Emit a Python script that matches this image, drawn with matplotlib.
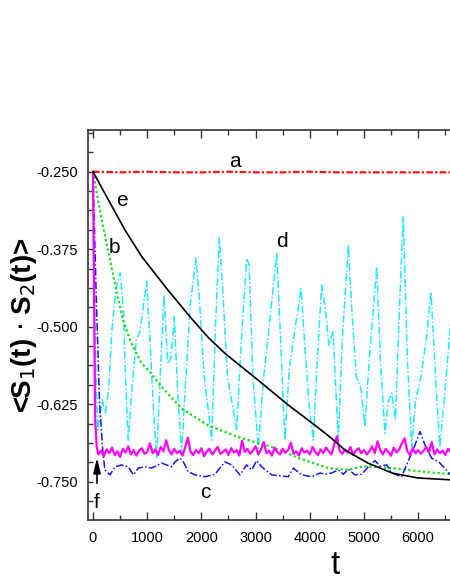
import numpy as np
import matplotlib
matplotlib.use('Agg')
import matplotlib.pyplot as plt
from matplotlib.ticker import MultipleLocator, FormatStrFormatter

plt.rcParams['font.family'] = ['Liberation Sans', 'DejaVu Sans']
plt.rcParams['axes.unicode_minus'] = False

# curve a : red, flat
t_a = [0, 500, 1000, 1500, 2000, 2500, 3000, 3500, 4000, 4500, 5000, 5500, 6000, 6600]
v_a = [-0.250, -0.251, -0.250, -0.251, -0.251, -0.250, -0.251, -0.251, -0.250, -0.251,
       -0.251, -0.251, -0.251, -0.251]

# curve b : green, slow decay
t_b = [0, 100, 200, 314, 443, 553, 700, 898, 1050, 1267, 1636, 2122, 2675, 3300,
       3800, 4340, 4700, 5000, 5500, 6000, 6600]
v_b = [-0.250, -0.300, -0.345, -0.392, -0.446, -0.489, -0.525, -0.559, -0.573, -0.597,
       -0.632, -0.659, -0.678, -0.694, -0.712, -0.728, -0.731, -0.725, -0.728, -0.733, -0.738]

# curve c : blue
t_c = [0, 60, 120, 180, 220, 314, 406, 529, 652, 745, 837, 960, 1082, 1267, 1452, 1513,
       1605, 1667, 1759, 1882, 2066, 2251, 2435, 2558, 2712, 2835, 2927, 3020, 3112, 3297,
       3603, 3696, 3850, 4035, 4188, 4280, 4404, 4526, 4619, 4711, 4834, 4957, 5080, 5203,
       5295, 5419, 5511, 5695, 5849, 5941, 6033, 6125, 6249, 6402, 6600]
v_c = [-0.250, -0.450, -0.620, -0.700, -0.731, -0.739, -0.726, -0.723, -0.726, -0.739,
       -0.728, -0.726, -0.728, -0.720, -0.726, -0.718, -0.712, -0.718, -0.734, -0.739,
       -0.742, -0.738, -0.718, -0.723, -0.739, -0.723, -0.731, -0.716, -0.726, -0.739,
       -0.742, -0.728, -0.739, -0.742, -0.736, -0.738, -0.736, -0.731, -0.738, -0.730,
       -0.739, -0.738, -0.726, -0.716, -0.725, -0.723, -0.736, -0.742, -0.710, -0.691,
       -0.669, -0.691, -0.712, -0.720, -0.739]

# curve d : cyan, oscillating
t_d = [0, 30, 60, 90, 130, 170, 230, 290, 350, 420, 500, 560, 600, 650, 720, 800, 860,
       940, 990, 1050, 1120, 1175, 1240, 1310, 1380, 1440, 1500, 1560, 1636, 1700, 1800,
       1900, 1960, 2050, 2120, 2190, 2260, 2330, 2400, 2480, 2560, 2650, 2740, 2835, 2880,
       2950, 3050, 3150, 3250, 3390, 3450, 3540, 3620, 3700, 3840, 3900, 3980, 4065, 4140,
       4220, 4300, 4350, 4430, 4480, 4526, 4600, 4711, 4780, 4860, 4950, 5018, 5100, 5234,
       5300, 5387, 5450, 5510, 5580, 5650, 5725, 5800, 5880, 5950, 6050, 6150, 6236, 6320,
       6400, 6500, 6600]
v_d = [-0.250, -0.450, -0.600, -0.667, -0.640, -0.618, -0.639, -0.600, -0.505, -0.440,
       -0.413, -0.470, -0.580, -0.683, -0.600, -0.520, -0.510, -0.460, -0.427, -0.520,
       -0.640, -0.712, -0.580, -0.449, -0.560, -0.550, -0.484, -0.600, -0.704, -0.600,
       -0.460, -0.390, -0.450, -0.580, -0.630, -0.683, -0.500, -0.357, -0.450, -0.580,
       -0.620, -0.666, -0.520, -0.390, -0.400, -0.580, -0.696, -0.580, -0.500, -0.382,
       -0.500, -0.683, -0.570, -0.520, -0.438, -0.520, -0.620, -0.683, -0.550, -0.433,
       -0.480, -0.530, -0.508, -0.600, -0.683, -0.520, -0.368, -0.480, -0.580, -0.602,
       -0.661, -0.550, -0.403, -0.550, -0.672, -0.620, -0.607, -0.650, -0.480, -0.323,
       -0.550, -0.694, -0.620, -0.580, -0.520, -0.444, -0.580, -0.694, -0.600, -0.490]

# curve e : black, smooth
t_e = [0, 250, 590, 900, 1384, 1800, 2122, 2435, 3044, 3598, 4096, 4373, 4649, 5074,
       5517, 5996, 6600]
v_e = [-0.250, -0.290, -0.344, -0.387, -0.441, -0.485, -0.517, -0.543, -0.586, -0.626,
       -0.659, -0.678, -0.699, -0.720, -0.736, -0.744, -0.747]

# curve f : magenta, fast drop then noisy plateau
t_f0 = [0, 20, 40, 70]
v_f0 = [-0.250, -0.450, -0.650, -0.695]
t_f1 = np.arange(100, 6601, 50)
v_f1 = [-0.706, -0.700, -0.709, -0.698, -0.704, -0.695, -0.707, -0.701, -0.710, -0.697,
        -0.703, -0.693, -0.706, -0.699, -0.708, -0.700, -0.696, -0.705, -0.702, -0.688,
        -0.704, -0.698, -0.707, -0.694, -0.701, -0.683, -0.699, -0.706, -0.697, -0.704,
        -0.700, -0.708, -0.695, -0.679, -0.702, -0.707, -0.699, -0.704, -0.696, -0.709,
        -0.701, -0.697, -0.706, -0.700, -0.694, -0.705, -0.702, -0.698, -0.707, -0.696,
        -0.703, -0.699, -0.708, -0.684, -0.702, -0.697, -0.705, -0.700, -0.693, -0.706,
        -0.698, -0.686, -0.704, -0.700, -0.708, -0.695, -0.702, -0.706, -0.697, -0.703,
        -0.699, -0.687, -0.705, -0.701, -0.708, -0.696, -0.703, -0.700, -0.706, -0.694,
        -0.702, -0.707, -0.698, -0.704, -0.695, -0.701, -0.706, -0.690, -0.677, -0.700,
        -0.705, -0.698, -0.703, -0.694, -0.707, -0.700, -0.696, -0.704, -0.699, -0.706,
        -0.701, -0.693, -0.704, -0.685, -0.699, -0.706, -0.697, -0.702, -0.708, -0.695,
        -0.703, -0.698, -0.688, -0.680, -0.701, -0.707, -0.696, -0.704, -0.699, -0.705,
        -0.700, -0.694, -0.703, -0.686, -0.706, -0.698, -0.704, -0.700, -0.707, -0.697,
        -0.702]
t_f = list(t_f0) + list(t_f1)
v_f = v_f0 + v_f1

curve_names = ['a', 'b', 'c', 'd', 'e', 'f']
name_pos = [(2620, -0.234), (387, -0.373), (2066, -0.767), (3487, -0.363),
            (535, -0.296), (74, -0.783)]

fig = plt.figure(figsize=(4.5, 5.82), dpi=100)
ax = fig.add_axes([88/450, 62/582, 364/450, 390/582])

ax.plot(t_d, v_d, color='#22e8ff', lw=1.1, ls=(0, (5, 1.5, 1, 1.5)))
ax.plot(t_b, v_b, color='#11dd11', lw=1.6, ls=(0, (1, 1.2)))
ax.plot(t_c, v_c, color='#1515ee', lw=1.1, ls=(0, (5, 1.5, 1, 1.5)))
ax.plot(t_f, v_f, color='#ff00ff', lw=1.6)
ax.plot(t_a, v_a, color='#ff1111', lw=1.6, ls=(0, (3, 1, 1, 1)))
ax.plot(t_e, v_e, color='black', lw=1.2)

for name, (tx, ty) in zip(curve_names, name_pos):
    ax.text(tx, ty, name, fontsize=15, ha='center', va='center')

ax.annotate('', xy=(74, -0.707), xytext=(74, -0.757),
            arrowprops=dict(arrowstyle='-|>,head_length=0.9,head_width=0.22',
                            color='black', lw=1.2))

ax.set_xlim(-92, 6624)
ax.set_ylim(-0.8118, -0.1827)
ax.xaxis.set_major_locator(MultipleLocator(1000))
ax.xaxis.set_minor_locator(MultipleLocator(500))
ax.yaxis.set_major_locator(MultipleLocator(0.125))
ax.yaxis.set_minor_locator(MultipleLocator(0.03125))
ax.yaxis.set_major_formatter(FormatStrFormatter('%.3f'))

ax.tick_params(axis='x', which='both', direction='in', top=True, labelsize=10.5,
               pad=8, color='#333333')
ax.tick_params(axis='x', which='major', length=6, width=1)
ax.tick_params(axis='x', which='minor', length=3.5, width=1)
ax.tick_params(axis='y', which='both', direction='in', right=False, labelsize=10.5,
               pad=7, length=3.6, width=1, color='#333333')
ax.spines['right'].set_visible(False)
for s in ['left', 'bottom', 'top']:
    ax.spines[s].set_linewidth(1.2)
    ax.spines[s].set_color('#333333')

ax.set_ylabel(r'<S$_1$(t) $\cdot$ S$_2$(t)>', fontsize=20, fontweight='bold')
ax.yaxis.set_label_coords(-0.135, 0.5)
ax.set_xlabel('t', fontsize=24)
ax.xaxis.set_label_coords((335 - 88) / 364, -(550 - 520) / 390)

plt.savefig('out.png', dpi=100)
